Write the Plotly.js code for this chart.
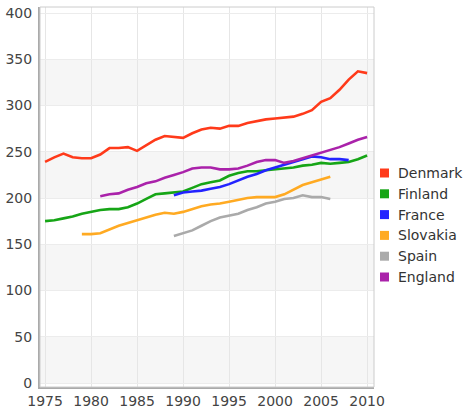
<!DOCTYPE html>
<html>
<head>
<meta charset="utf-8">
<script src="https://cdn.plot.ly/plotly-3.0.1.min.js"></script>
<style>html,body{margin:0;padding:0;background:#fff;}#chart{width:464px;height:413px;}</style>
</head>
<body>
<div id="chart"></div>
<script>
const countries = ["Denmark", "Finland", "France", "Slovakia", "Spain", "England"];
const colors = ["#ff3a1a", "#16a516", "#2323ff", "#ffaa22", "#aaaaaa", "#aa22aa"];

const denmarkYears = [1975,1976,1977,1978,1979,1980,1981,1982,1983,1984,1985,1986,1987,1988,1989,1990,1991,1992,1993,1994,1995,1996,1997,1998,1999,2000,2001,2002,2003,2004,2005,2006,2007,2008,2009,2010];
const denmark = [239,244,248,244,243,243,247,254,254,255,251,257,263,267,266,265,270,274,276,275,278,278,281,283,285,286,287,288,291,295,304,308,317,328,337,335];

const finlandYears = denmarkYears;
const finland = [175,176,178,180,183,185,187,188,188,190,194,199,204,205,206,207,211,215,217,219,224,227,229,229,230,231,232,233,235,236,238,237,238,239,242,246];

const franceYears = [1989,1990,1991,1992,1993,1994,1995,1996,1997,1998,1999,2000,2001,2002,2003,2004,2005,2006,2007,2008];
const france = [203,206,207,208,210,212,215,219,223,226,230,233,236,239,242,245,244,242,242,241];

const slovakiaYears = [1979,1980,1981,1982,1983,1984,1985,1986,1987,1988,1989,1990,1991,1992,1993,1994,1995,1996,1997,1998,1999,2000,2001,2002,2003,2004,2005,2006];
const slovakia = [161,161,162,166,170,173,176,179,182,184,183,185,188,191,193,194,196,198,200,201,201,201,204,209,214,217,220,223];

const spainYears = [1989,1990,1991,1992,1993,1994,1995,1996,1997,1998,1999,2000,2001,2002,2003,2004,2005,2006];
const spain = [159,162,165,170,175,179,181,183,187,190,194,196,199,200,203,201,201,199];

const englandYears = [1981,1982,1983,1984,1985,1986,1987,1988,1989,1990,1991,1992,1993,1994,1995,1996,1997,1998,1999,2000,2001,2002,2003,2004,2005,2006,2007,2008,2009,2010];
const england = [202,204,205,209,212,216,218,222,225,228,232,233,233,231,231,232,235,239,241,241,238,240,243,246,249,252,255,259,263,266];

const xTicks = [1975,1980,1985,1990,1995,2000,2005,2010];
const yTicks = [0,50,100,150,200,250,300,350,400];

const seriesX = [denmarkYears, finlandYears, franceYears, slovakiaYears, spainYears, englandYears];
const seriesY = [denmark, finland, france, slovakia, spain, england];

const traces = countries.map((name, i) => ({
  type: "scatter", mode: "lines", name: name,
  x: seriesX[i], y: seriesY[i],
  line: {color: colors[i], width: 2.6, shape: "linear"},
  showlegend: false
}));

// plot-area geometry (pixels) used to place the hand-built legend
const W = 464, H = 413, L = 40, R = 90, T = 7, B = 26;
const plotW = W - L - R, plotH = H - T - B;
const px2x = p => (p - L) / plotW;
const px2y = p => (H - B - p) / plotH;

const shapes = [];
for (let k = 0; k + 1 < yTicks.length; k += 2) {
  shapes.push({type: "rect", xref: "paper", yref: "y", x0: 0, x1: 1, y0: yTicks[k], y1: yTicks[k+1],
    fillcolor: "#f6f6f6", line: {width: 0}, layer: "below"});
}
shapes.push({type: "rect", xref: "paper", yref: "paper", x0: 0, x1: 1, y0: 0, y1: 1,
  line: {color: "#cccccc", width: 1}, layer: "above"});

const font = {family: "DejaVu Sans, Verdana, sans-serif", size: 14, color: "#444444"};

const annotations = [];
const legTop = 173, legStep = 20.8, sq = 9, sqCx = 384.5, textX = 396;
countries.forEach((name, i) => {
  const cy = legTop + i * legStep;
  shapes.push({type: "rect", xref: "paper", yref: "paper",
    x0: px2x(sqCx - sq / 2), x1: px2x(sqCx + sq / 2), y0: px2y(cy + sq / 2), y1: px2y(cy - sq / 2),
    fillcolor: colors[i], line: {width: 0}});
  annotations.push({xref: "paper", yref: "paper", x: px2x(textX), y: px2y(cy), xanchor: "left", yanchor: "middle",
    text: name, showarrow: false, font: {family: font.family, size: 14, color: "#333333"}});
});

Plotly.newPlot("chart", traces, {
  width: W, height: H,
  margin: {l: L, r: R, t: T, b: B, pad: 0},
  paper_bgcolor: "#ffffff", plot_bgcolor: "#ffffff",
  font: font,
  showlegend: false,
  xaxis: {range: [1974.45, 2010.75], tickvals: xTicks, ticktext: xTicks.map(String), showgrid: true, gridcolor: "#e6e6e6",
    gridwidth: 1, zeroline: false, showline: true, linecolor: "#aaaaaa", linewidth: 2, ticks: "", tickfont: font},
  yaxis: {range: [-4.3, 406.5], tickvals: yTicks, ticktext: yTicks.map(String), showgrid: true, gridcolor: "#ececec",
    gridwidth: 1, zeroline: false, showline: true, linecolor: "#aaaaaa", linewidth: 2, ticks: "", tickfont: font,
    ticklabelstandoff: 3},
  shapes: shapes,
  annotations: annotations
}, {displayModeBar: false, staticPlot: true});
</script>
</body>
</html>
